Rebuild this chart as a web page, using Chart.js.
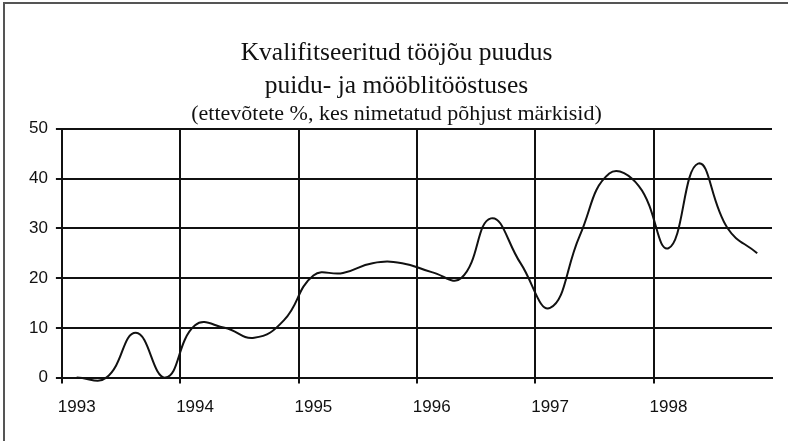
<!DOCTYPE html>
<html lang="et">
<head>
<meta charset="UTF-8">
<title>Kvalifitseeritud tööjõu puudus</title>
<style>
  body { margin: 0; background: #fff; }
  .box { position: relative; width: 788px; height: 441px; }
  .raam { position: absolute; left: 3px; top: 2px; right: 0; bottom: 0; border-left: 2px solid #555; border-top: 2px solid #555; pointer-events: none; }
</style>
</head>
<body>
<div class="box">
  <canvas id="graafik"></canvas>
  <div class="raam"></div>
</div>
<script src="https://cdn.jsdelivr.net/npm/chart.js"></script>
<script>
// kvartalid 1993 I ... 1998 IV
var aastad = ["1993", "1994", "1995", "1996", "1997", "1998"];
var kvartalid = ["I", "II", "III", "IV"];
// ettevõtete %, kes märkisid kvalifitseeritud tööjõu puudust
var osakaal = [0, 0, 9, 0, 10.5, 10, 8, 11.5, 20.5, 21, 23, 23, 21.2, 20, 32, 23, 14, 28.5, 41, 38.5, 26, 43, 30, 25];
var pealkiri = ["Kvalifitseeritud tööjõu puudus", "puidu- ja mööblitööstuses"];
var alapealkiri = "(ettevõtete %, kes nimetatud põhjust märkisid)";

var sildid = [];
for (var a = 0; a < aastad.length; a++) {
    for (var k = 0; k < kvartalid.length; k++) {
        sildid.push(aastad[a] + " " + kvartalid[k]);
    }
}

var must = "#111";

new Chart(document.getElementById("graafik"), {
    type: "line",
    data: {
        labels: sildid,
        datasets: [{
            data: osakaal,
            borderColor: must,
            borderWidth: 2,
            tension: 0.45,
            pointRadius: 0,
            fill: false,
            clip: false
        }]
    },
    options: {
        responsive: true,
        maintainAspectRatio: false,
        animation: false,
        elements: { line: { capBezierPoints: false } },
        layout: { padding: { top: 37, left: 21, right: 16, bottom: 9 } },
        plugins: {
            legend: { display: false },
            tooltip: { enabled: false },
            title: {
                display: true,
                text: pealkiri,
                color: must,
                font: { family: "'Liberation Serif', 'Times New Roman', serif", size: 25.5, weight: "normal", lineHeight: 1.29 },
                padding: { top: 0, bottom: 0 }
            },
            subtitle: {
                display: true,
                text: alapealkiri,
                color: must,
                font: { family: "'Liberation Serif', 'Times New Roman', serif", size: 22, lineHeight: 1.0 },
                padding: { top: 0, bottom: 4 }
            }
        },
        scales: {
            x: {
                type: "category",
                offset: true,
                grid: {
                    offset: true,
                    lineWidth: 2,
                    tickLength: 6,
                    color: function (ctx) { return ctx.index % 4 === 0 ? must : "rgba(0,0,0,0)"; }
                },
                border: { display: true, color: must, width: 2 },
                ticks: {
                    autoSkip: false,
                    maxRotation: 0,
                    padding: 14,
                    color: must,
                    font: { family: "'Liberation Sans', Arial, sans-serif", size: 17 },
                    callback: function (v, i) { return i % 4 === 0 ? aastad[i / 4] : ""; }
                }
            },
            y: {
                min: 0,
                max: 50,
                grid: { color: must, lineWidth: 2, tickLength: 6 },
                border: { display: true, color: must, width: 2 },
                ticks: {
                    stepSize: 10,
                    padding: 8,
                    color: must,
                    font: { family: "'Liberation Sans', Arial, sans-serif", size: 17 }
                }
            }
        }
    }
});
</script>
</body>
</html>
